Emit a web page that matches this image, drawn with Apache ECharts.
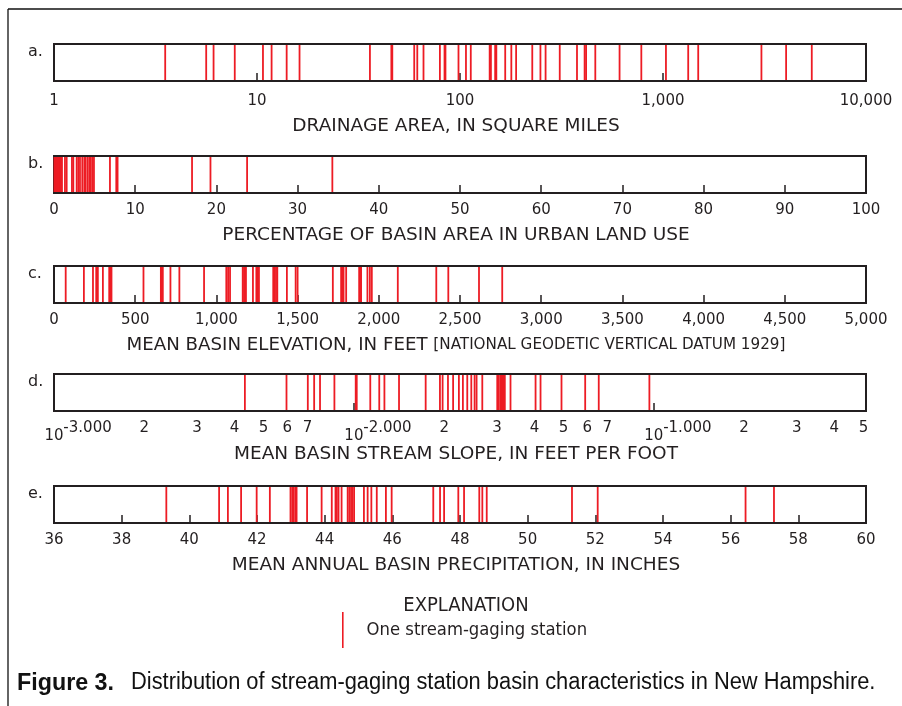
<!DOCTYPE html>
<html><head><meta charset="utf-8">
<script src="https://cdn.jsdelivr.net/npm/echarts@6/dist/echarts.min.js"></script>
<style>html,body{margin:0;padding:0;background:#fff}#c{width:902px;height:706px}</style>
</head><body><div id="c"></div>
<script>
// ---- data ----
const drainageArea = [3.53, 5.62, 6.11, 7.77, 10.7, 11.8, 14.0, 16.2, 36.0, 45.9, 46.4, 59.5, 61.6, 66.1, 79.6, 83.9, 84.8, 98.3, 107, 113, 140, 142, 149, 151, 167, 179, 189, 227, 249, 264, 310, 377, 411, 418, 464, 611, 782, 1034, 1331, 1491, 3054, 4041, 5406];
const urbanPercent = [0.05, 0.12, 0.2, 0.27, 0.35, 0.42, 0.53, 0.6, 0.66, 0.75, 0.82, 0.9, 0.98, 1.35, 1.56, 2.21, 2.38, 2.79, 2.99, 3.2, 3.48, 3.73, 3.9, 4.14, 4.35, 4.51, 4.71, 4.92, 6.89, 7.67, 7.83, 17.0, 19.27, 23.78, 34.28];
const elevation = [72, 184, 240, 260, 270, 301, 340, 346, 354, 551, 658, 664, 670, 717, 772, 924, 1061, 1072, 1084, 1162, 1170, 1176, 1182, 1225, 1246, 1254, 1262, 1350, 1358, 1367, 1375, 1434, 1488, 1500, 1717, 1768, 1775, 1783, 1799, 1879, 1885, 1891, 1930, 1945, 1957, 2117, 2354, 2428, 2617, 2760];
const streamSlope = [0.00433, 0.00596, 0.00702, 0.00737, 0.00771, 0.00861, 0.01014, 0.01022, 0.01134, 0.01215, 0.01264, 0.01414, 0.01735, 0.01936, 0.01976, 0.02059, 0.02142, 0.02239, 0.02309, 0.02388, 0.02463, 0.02526, 0.02565, 0.0268, 0.03006, 0.03043, 0.03083, 0.03107, 0.03138, 0.03162, 0.03186, 0.03328, 0.04034, 0.04191, 0.04923, 0.05905, 0.06553, 0.09667];
const precipitation = [39.32, 40.88, 41.14, 41.53, 41.99, 42.38, 42.99, 43.04, 43.08, 43.13, 43.17, 43.48, 43.91, 44.21, 44.32, 44.36, 44.41, 44.5, 44.68, 44.73, 44.78, 44.82, 44.87, 45.16, 45.27, 45.38, 45.54, 45.81, 45.98, 47.21, 47.41, 47.53, 47.95, 48.12, 48.57, 48.66, 48.79, 51.31, 52.07, 56.44, 57.28];

// tick labels
const slopeLabelValues = [0.001, 0.002, 0.003, 0.004, 0.005, 0.006, 0.007, 0.01, 0.02, 0.03, 0.04, 0.05, 0.06, 0.07, 0.1, 0.2, 0.3, 0.4, 0.5];
const slopeTickValues = [0.01, 0.1];

const panelLetters = ['a.', 'b.', 'c.', 'd.', 'e.'];
const axisTitles = [
  'DRAINAGE AREA, IN SQUARE MILES',
  'PERCENTAGE OF BASIN AREA IN URBAN LAND USE',
  '{m|MEAN BASIN ELEVATION, IN FEET} {s|[NATIONAL GEODETIC VERTICAL DATUM 1929]}',
  'MEAN BASIN STREAM SLOPE, IN FEET PER FOOT',
  'MEAN ANNUAL BASIN PRECIPITATION, IN INCHES'
];
const stationLabel = 'One stream-gaging station';
const captionBold = 'Figure 3.';
const captionText = 'Distribution of stream-gaging station basin characteristics in New Hampshire.';

// ---- layout & style ----
const INK = '#231f20';
const RED = '#ed1c24';
const FONT = 'DejaVu Sans';
const NARROW = "'Liberation Sans Narrow', 'DejaVu Sans Condensed', 'Liberation Sans', sans-serif";
const gridTops = [44, 156, 266, 374, 486];
const GH = 37;

const fmtComma = v => Math.round(v).toLocaleString('en-US');

const axisDefs = [
  {type: 'log', min: 1, max: 10000, logBase: 10, axisLabel: {formatter: fmtComma, margin: 13}, nameGap: 36},
  {type: 'value', min: 0, max: 100, interval: 10},
  {type: 'value', min: 0, max: 5000, interval: 500, axisLabel: {formatter: fmtComma}},
  {type: 'log', min: 0.001, max: 0.51, logBase: 10,
    axisTick: {customValues: slopeTickValues},
    axisLabel: {
      customValues: slopeLabelValues,
      margin: 10,
      formatter: v => {
        const e = Math.log10(v);
        const r = Math.round(e);
        if (Math.abs(e - r) < 1e-6) return '{s| }{b|10}{e|' + r.toFixed(3) + '}';
        return String(Math.round(v / Math.pow(10, Math.floor(e + 1e-9))));
      },
      rich: {
        s: {width: 48, fontSize: 15, fontFamily: FONT},
        b: {fontSize: 15, fontFamily: FONT, color: INK, padding: [8, 0, 0, 0]},
        e: {width: 48, fontSize: 15, fontFamily: FONT, color: INK, align: 'left', padding: [0, 0, 8, 0]}
      }
    }},
  {type: 'value', min: 36, max: 60, interval: 2}
];
const datasets = [drainageArea, urbanPercent, elevation, streamSlope, precipitation];

const grids = [], xAxes = [], yAxes = [], series = [];
axisDefs.forEach((d, i) => {
  grids.push({left: 54, width: 812, top: gridTops[i], height: GH, show: true,
    borderColor: INK, borderWidth: 2, backgroundColor: 'transparent'});
  const ax = Object.assign({}, d, {
    gridIndex: i,
    axisLine: {show: false},
    splitLine: {show: false},
    minorTick: {show: false},
    axisTick: Object.assign({show: true, inside: true, length: 8, lineStyle: {color: INK, width: 1.5}}, d.axisTick || {}),
    axisLabel: Object.assign({color: INK, fontFamily: FONT, fontSize: 15, margin: 10, showMinLabel: true, showMaxLabel: true}, d.axisLabel || {}),
    name: axisTitles[i],
    nameLocation: 'middle',
    nameGap: d.nameGap || 33,
    nameTextStyle: {color: INK, fontFamily: FONT, fontSize: 18.5, padding: [0, 8, 0, 0],
      rich: {m: {fontFamily: FONT, fontSize: 18.2, color: INK}, s: {fontFamily: FONT, fontSize: 15.2, color: INK}}}
  });
  xAxes.push(ax);
  yAxes.push({gridIndex: i, type: 'value', min: 0, max: 1, show: false});
  series.push({
    type: 'scatter', name: stationLabel, xAxisIndex: i, yAxisIndex: i,
    data: datasets[i].map(v => [v, 0.5]),
    symbol: 'rect', symbolSize: [1.8, GH - 2],
    itemStyle: {color: RED, opacity: 1}, silent: true, z: 3
  });
});

const graphics = [
  {type: 'line', shape: {x1: 8, y1: 9, x2: 902, y2: 9}, style: {stroke: '#111', lineWidth: 1.3}},
  {type: 'line', shape: {x1: 8, y1: 9, x2: 8, y2: 706}, style: {stroke: '#111', lineWidth: 1.3}},
  {type: 'text', x: 466, y: 606, style: {text: 'EXPLANATION', fill: INK, font: '20px ' + NARROW, textAlign: 'center', textVerticalAlign: 'middle'}},
  {type: 'text', x: 17, y: 683, scaleX: 0.97, style: {text: captionBold, fill: '#111', font: 'bold 24px "Liberation Sans"', textVerticalAlign: 'middle'}},
  {type: 'text', x: 131, y: 683, scaleX: 0.95, style: {text: captionText, fill: '#111', font: '23px "Liberation Sans"', textVerticalAlign: 'middle'}}
];
panelLetters.forEach((t, i) => {
  graphics.push({type: 'text', x: 28, y: gridTops[i], style: {text: t, fill: INK, font: '16px ' + FONT}});
});

const chart = echarts.init(document.getElementById('c'), null, {renderer: 'canvas'});
chart.setOption({
  animation: false,
  backgroundColor: '#fff',
  grid: grids, xAxis: xAxes, yAxis: yAxes, series: series,
  legend: {data: [stationLabel], left: 337, top: 607, icon: 'rect', itemWidth: 1.6, itemHeight: 36,
    selectedMode: false, textStyle: {color: INK, fontFamily: NARROW, fontSize: 18.3, padding: [0, 0, 0, 18]}},
  graphic: graphics
});
</script></body></html>
